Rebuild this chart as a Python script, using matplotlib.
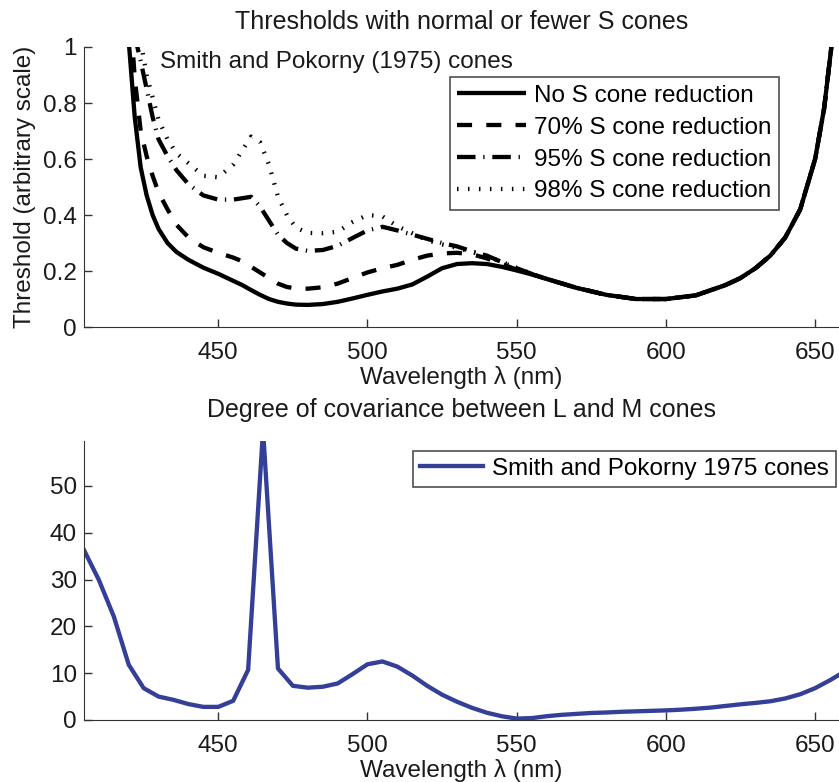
import matplotlib
matplotlib.use('Agg')
import matplotlib.pyplot as plt

plt.rcParams['font.family'] = ['Liberation Sans', 'DejaVu Sans']

# top panel: thresholds
wl_top = [420, 422, 424, 426, 428, 430, 433, 436, 440, 445, 450, 455, 458, 461, 464, 467,
          470, 473, 476, 480, 485, 490, 495, 500, 505, 510, 515, 520, 525, 530, 535, 540,
          545, 550, 555, 560, 570, 580, 590, 600, 610, 620, 625, 630, 635, 640, 645, 650,
          653, 656]
no_red = [1.02, 0.75, 0.57, 0.47, 0.40, 0.35, 0.30, 0.268, 0.24, 0.212, 0.19, 0.165, 0.15,
          0.132, 0.115, 0.1, 0.09, 0.084, 0.08, 0.079, 0.082, 0.09, 0.102, 0.115, 0.127,
          0.137, 0.152, 0.18, 0.21, 0.225, 0.228, 0.225, 0.215, 0.202, 0.188, 0.172, 0.14,
          0.115, 0.1, 0.1, 0.113, 0.15, 0.175, 0.21, 0.255, 0.32, 0.42, 0.6, 0.78, 1.05]
red70 = [1.2, 0.89, 0.70, 0.61, 0.54, 0.48, 0.42, 0.365, 0.32, 0.285, 0.265, 0.248, 0.235,
         0.215, 0.195, 0.175, 0.155, 0.143, 0.138, 0.137, 0.142, 0.155, 0.175, 0.195, 0.21,
         0.222, 0.24, 0.255, 0.263, 0.265, 0.26, 0.245, 0.225, 0.205, 0.189, 0.172, 0.14,
         0.115, 0.1, 0.1, 0.113, 0.15, 0.175, 0.21, 0.255, 0.32, 0.42, 0.6, 0.78, 1.05]
red95 = [1.3, 1.04, 0.95, 0.85, 0.75, 0.67, 0.61, 0.56, 0.51, 0.47, 0.455, 0.455, 0.46,
         0.465, 0.43, 0.38, 0.33, 0.30, 0.28, 0.272, 0.275, 0.29, 0.318, 0.345, 0.358,
         0.345, 0.33, 0.315, 0.30, 0.288, 0.27, 0.255, 0.232, 0.21, 0.19, 0.172, 0.14,
         0.115, 0.1, 0.1, 0.113, 0.15, 0.175, 0.21, 0.255, 0.32, 0.42, 0.6, 0.78, 1.05]
red98 = [1.4, 1.12, 1.02, 0.9, 0.82, 0.74, 0.67, 0.62, 0.585, 0.54, 0.535, 0.58, 0.63,
         0.68, 0.66, 0.58, 0.465, 0.40, 0.355, 0.336, 0.335, 0.34, 0.375, 0.40, 0.395,
         0.36, 0.335, 0.31, 0.295, 0.283, 0.268, 0.253, 0.233, 0.211, 0.19, 0.172, 0.14,
         0.115, 0.1, 0.1, 0.113, 0.15, 0.175, 0.21, 0.255, 0.32, 0.42, 0.6, 0.78, 1.05]

# bottom panel: L/M covariance
wl_bot = list(range(405, 661, 5))
covar = [36.3, 29.9, 22.1, 11.8, 6.8, 5.0, 4.3, 3.4, 2.8, 2.8, 4.1, 10.7, 62.0, 11.0, 7.3,
         6.9, 7.1, 7.8, 9.8, 11.9, 12.5, 11.4, 9.5, 7.3, 5.4, 3.9, 2.6, 1.55, 0.8, 0.3, 0.4,
         0.8, 1.1, 1.3, 1.5, 1.6, 1.75, 1.85, 1.95, 2.05, 2.2, 2.4, 2.65, 3.0, 3.35, 3.65,
         4.0, 4.6, 5.5, 6.8, 8.5, 10.4]

top_labels = ['No S cone reduction', '70% S cone reduction',
              '95% S cone reduction', '98% S cone reduction']

fs = 17.5
txt = '#1a1a1a'

fig = plt.figure(figsize=(8.39, 7.82), dpi=100)
ax1 = fig.add_axes([0.1001, 0.5818, 0.8999, 0.3581])
ax2 = fig.add_axes([0.1001, 0.0793, 0.8999, 0.3568])

lw = 3.1
ax1.plot(wl_top, no_red, color='black', lw=lw, solid_capstyle='butt', label=top_labels[0])
ax1.plot(wl_top, red70, color='black', lw=lw, linestyle=(0, (3.5, 3.3)),
         dash_capstyle='butt', label=top_labels[1])
ax1.plot(wl_top, red95, color='black', lw=lw, linestyle=(0, (4.3, 1.8, 0.3, 1.8)),
         dash_capstyle='butt', label=top_labels[2])
ax1.plot(wl_top, red98, color='black', lw=lw, linestyle=(0, (0.35, 2.2)),
         dash_capstyle='butt', label=top_labels[3])

ax1.set_xlim(405, 658)
ax1.set_ylim(0, 1)
ax1.set_xticks([450, 500, 550, 600, 650])
ax1.set_yticks([0, 0.2, 0.4, 0.6, 0.8, 1])
ax1.set_yticklabels(['0', '0.2', '0.4', '0.6', '0.8', '1'])
ax1.set_title('Thresholds with normal or fewer S cones', fontsize=18, color=txt, pad=13)
ax1.set_xlabel('Wavelength \u03bb (nm)', fontsize=fs, color=txt, labelpad=1)
ax1.set_ylabel('Threshold (arbitrary scale)', fontsize=fs, color=txt, labelpad=5)
ax1.text(0.1007, 0.946, 'Smith and Pokorny (1975) cones', transform=ax1.transAxes,
         fontsize=fs, color=txt, va='center', ha='left')
leg1 = ax1.legend(loc='upper right', bbox_to_anchor=(0.9205, 0.892), borderaxespad=0,
                  fontsize=fs, frameon=True, fancybox=False, handlelength=2.85,
                  handletextpad=0.33, labelspacing=0.41, borderpad=0.3)
leg1.get_frame().set_edgecolor('#222222')
leg1.get_frame().set_linewidth(1.2)

ax2.plot(wl_bot, covar, color='#343f98', lw=3.1, label='Smith and Pokorny 1975 cones')
ax2.set_xlim(405, 658)
ax2.set_ylim(0, 59.6)
ax2.set_xticks([450, 500, 550, 600, 650])
ax2.set_yticks([0, 10, 20, 30, 40, 50])
ax2.set_title('Degree of covariance between L and M cones', fontsize=18, color=txt, pad=17)
ax2.set_xlabel('Wavelength \u03bb (nm)', fontsize=fs, color=txt, labelpad=1)
leg2 = ax2.legend(loc='upper right', bbox_to_anchor=(0.9956, 0.9652), borderaxespad=0,
                  fontsize=fs, frameon=True, fancybox=False, handlelength=2.6,
                  handletextpad=0.33, borderpad=0.3)
leg2.get_frame().set_edgecolor('#222222')
leg2.get_frame().set_linewidth(1.2)

for ax in (ax1, ax2):
    ax.spines['top'].set_visible(False)
    ax.spines['right'].set_visible(False)
    ax.spines['left'].set_color('#333333')
    ax.spines['bottom'].set_color('#333333')
    ax.tick_params(direction='in', length=6, width=1, labelsize=fs, colors='#333333',
                   labelcolor=txt, pad=5)
    ax.tick_params(axis='x', pad=11)

fig.savefig('out.png', dpi=100)
